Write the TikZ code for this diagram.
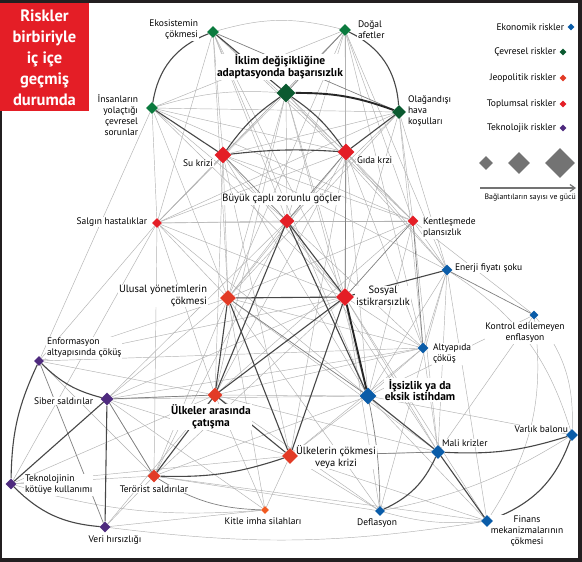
\documentclass[tikz,border=0pt]{standalone}
\usepackage{fontspec}
\setmainfont{PT Sans}
\usetikzlibrary{shapes.geometric,backgrounds,arrows.meta}

\definecolor{ekoc}{HTML}{0A5CA8}
\definecolor{cevc}{HTML}{0B7A3E}
\definecolor{iklc}{HTML}{0B5A30}
\definecolor{jeoc}{HTML}{E23B26}
\definecolor{kitc}{HTML}{F15A22}
\definecolor{topc}{HTML}{E41E26}
\definecolor{tekc}{HTML}{4E2A7E}
\definecolor{framec}{HTML}{231F20}

\tikzset{
  rk/.style={diamond,inner sep=0pt,minimum size=#1},
  lbl/.style={font=\fontsize{9.5}{11}\selectfont,inner sep=0.8pt,fill=white},
  mlbl/.style={font=\fontsize{10.5}{11.5}\selectfont,inner sep=0.8pt,fill=white},
  blbl/.style={font=\bfseries\fontsize{11.5}{11.5}\selectfont,inner sep=0.8pt,fill=white},
  lnk/.style={black!30,line width=0.45pt},
  mlnk/.style={black!50,line width=0.7pt},
  dlnk/.style={black!72,line width=1.1pt},
  hlnk/.style={black!85,line width=1.9pt},
}

\begin{document}
\begin{tikzpicture}[x=1pt,y=-1pt]
\useasboundingbox (0,0) rectangle (582,562);

% title
\fill[topc] (0,3) rectangle (89,111);
\node[text=white,font=\bfseries\fontsize{16.5}{21}\selectfont,align=center] (ttl) at (44.5,58) {Riskler\\birbiriyle\\iç içe\\geçmiş\\durumda};

% labels
\node[lbl,align=right,anchor=east] (eko-l) at (199,30) {Ekosistemin\\çökmesi};
\node[lbl,align=left,anchor=west] (dog-l) at (357,30) {Doğal\\afetler};
\node[blbl,align=center] (ikl-l) at (280,67) {İklim değişikliğine\\adaptasyonda başarısızlık};
\node[lbl,align=right,anchor=east] (ins-l) at (139,115) {İnsanların\\yolaçtığı\\çevresel\\sorunlar};
\node[lbl,align=left,anchor=west] (ola-l) at (407,111) {Olağandışı\\hava\\koşulları};
\node[lbl,anchor=east] (su-l) at (214,163) {Su krizi};
\node[lbl,anchor=west] (gid-l) at (356,160) {Gıda krzi};
\node[mlbl] (goc-l) at (282,199) {Büyük çaplı zorunlu göçler};
\node[lbl,anchor=east] (sal-l) at (148,222) {Salgın hastalıklar};
\node[lbl,align=left,anchor=west] (ken-l) at (422,228) {Kentleşmede\\plansızlık};
\node[mlbl,align=right,anchor=east] (ulu-l) at (208,296) {Ulusal yönetimlerin\\çökmesi};
\node[mlbl,align=center] (sos-l) at (383,296) {Sosyal\\istikrarsızlık};
\node[blbl,align=center] (cat-l) at (211,417) {Ülkeler arasında\\çatışma};
\node[mlbl,align=center] (cok-l) at (336,457) {Ülkelerin çökmesi\\veya krizi};
\node[lbl] (ter-l) at (154,489) {Terörist saldırılar};
\node[lbl] (kit-l) at (263,521) {Kitle imha silahları};
\node[lbl,align=left,anchor=west] (tek-l) at (24,485) {Teknolojinin\\kötüye kullanımı};
\node[lbl] (ver-l) at (115,540) {Veri hırsızlığı};
\node[lbl,align=left,anchor=west] (inf-l) at (46,348) {Enformasyon\\altyapısında çöküş};
\node[lbl,anchor=east] (sib-l) at (94,401) {Siber saldırılar};
\node[lbl,anchor=west] (ene-l) at (454,268) {Enerji fiyatı şoku};
\node[lbl,align=center] (enf-l) at (525,333) {Kontrol edilemeyen\\enflasyon};
\node[lbl,align=left,anchor=west] (alt-l) at (432,354) {Altyapıda\\çöküş};
\node[blbl,align=center] (iss-l) at (420,390) {İşsizlik ya da\\eksik istihdam};
\node[lbl,anchor=west] (mal-l) at (441,443) {Mali krizler};
\node[lbl,anchor=east] (var-l) at (569,429) {Varlık balonu};
\node[lbl] (def-l) at (377,523) {Deflasyon};
\node[lbl,align=center] (fin-l) at (527,531) {Finans\\mekanizmalarının\\çökmesi};

% risks: cevresel
\node[rk=12,fill=cevc] (eko) at (213,32) {};
\node[rk=12,fill=cevc] (dog) at (345,30) {};
\node[rk=19,fill=iklc] (ikl) at (286,93) {};
\node[rk=12,fill=cevc] (ins) at (152,108) {};
\node[rk=14,fill=iklc] (ola) at (399,112) {};
% toplumsal
\node[rk=17,fill=topc] (su) at (223,155) {};
\node[rk=17,fill=topc] (gid) at (346,152) {};
\node[rk=15,fill=topc] (goc) at (287,221) {};
\node[rk=10,fill=topc] (sal) at (157,223) {};
\node[rk=11,fill=topc] (ken) at (413,221) {};
\node[rk=18,fill=topc] (sos) at (345,297) {};
% jeopolitik
\node[rk=16,fill=jeoc] (ulu) at (228,298) {};
\node[rk=15,fill=jeoc] (cat) at (215,395) {};
\node[rk=16,fill=jeoc] (cok) at (290,456) {};
\node[rk=13,fill=jeoc] (ter) at (154,476) {};
\node[rk=8,fill=kitc] (kit) at (265,510) {};
% ekonomik
\node[rk=11,fill=ekoc] (ene) at (447,270) {};
\node[rk=9,fill=ekoc] (enf) at (534,315) {};
\node[rk=11,fill=ekoc] (alt) at (423,348) {};
\node[rk=17,fill=ekoc] (iss) at (368,396) {};
\node[rk=14,fill=ekoc] (mal) at (438,452) {};
\node[rk=12,fill=ekoc] (var) at (572,435) {};
\node[rk=10,fill=ekoc] (def) at (380,511) {};
\node[rk=12,fill=ekoc] (fin) at (487,521) {};
% teknolojik
\node[rk=10,fill=tekc] (inf) at (39,361) {};
\node[rk=13,fill=tekc] (sib) at (107,399) {};
\node[rk=11,fill=tekc] (tek) at (11,484) {};
\node[rk=11,fill=tekc] (ver) at (105,527) {};

% legend
\node[lbl,fill=none,anchor=east] (lg-eko) at (565,27) {Ekonomik riskler};
\node[rk=7,fill=ekoc] (lgd-eko) at (571,27) {};
\node[lbl,fill=none,anchor=east] (lg-cev) at (557,52) {Çevresel riskler};
\node[rk=7,fill=iklc] (lgd-cev) at (563,52) {};
\node[lbl,fill=none,anchor=east] (lg-jeo) at (557,78) {Jeopolitik riskler};
\node[rk=7,fill=jeoc] (lgd-jeo) at (563,78) {};
\node[lbl,fill=none,anchor=east] (lg-top) at (557,104) {Toplumsal riskler};
\node[rk=7,fill=topc] (lgd-top) at (563,104) {};
\node[lbl,fill=none,anchor=east] (lg-tek) at (557,128) {Teknolojik riskler};
\node[rk=7,fill=tekc] (lgd-tek) at (563,128) {};
\node[rk=14,fill=black!55] (sz1) at (486,163) {};
\node[rk=22,fill=black!55] (sz2) at (519,163) {};
\node[rk=30,fill=black!55] (sz3) at (560,163) {};
\coordinate (ar1) at (480,188);
\coordinate (ar2) at (576,188);
\draw[black!55,line width=1.2pt,-{Straight Barb[length=5pt,width=7pt]}] (ar1) -- (ar2);
\node[font=\fontsize{7.8}{9}\selectfont,anchor=east,inner sep=0pt] (lg-txt) at (576,198) {Bağlantıların sayısı ve gücü};

\begin{scope}[on background layer]
\fill[framec] (0,0) rectangle (582,562);
\fill[white] (2,3) rectangle (578,558);
% links
\foreach \a/\b in {eko/su,eko/gid,eko/goc,eko/sal,eko/ken,eko/sos,eko/ulu,eko/iss,
  dog/ins,dog/su,dog/gid,dog/goc,dog/ken,dog/sal,dog/sos,dog/ene,dog/alt,dog/ulu,
  ikl/goc,ikl/sos,ikl/ulu,ikl/ken,ikl/sal,ikl/cat,ikl/iss,ikl/ene,
  ins/ola,ins/gid,ins/sal,ins/goc,ins/ken,ins/inf,ins/ulu,ins/sos,
  ola/su,ola/ken,ola/goc,ola/sos,ola/ene,ola/alt,ola/sal,ola/ulu,
  su/sos,su/ulu,su/cat,su/ken,su/sal,su/iss,su/cok,su/ene,
  gid/ken,gid/ulu,gid/sal,gid/cok,gid/cat,gid/iss,gid/ene,gid/alt,
  goc/sal,goc/ken,goc/ter,goc/alt,goc/mal,goc/sib,goc/ulu,
  sal/ken,sal/ulu,sal/sos,sal/cat,sal/tek,sal/ter,sal/iss,sal/inf,
  ken/ene,ken/iss,ken/mal,ken/cat,ken/ulu,ken/enf,
  ulu/ter,ulu/sib,ulu/alt,ulu/mal,ulu/inf,ulu/kit,ulu/def,
  sos/alt,sos/mal,sos/ter,sos/def,sos/sib,sos/fin,sos/inf,
  cat/sib,cat/kit,cat/alt,cat/iss,cat/mal,cat/ver,cat/def,
  cok/mal,cok/iss,cok/kit,cok/sib,cok/def,cok/fin,cok/tek,cok/alt,
  ter/sib,ter/tek,ter/ver,ter/iss,ter/def,ter/inf,
  iss/fin,iss/var,iss/alt,iss/enf,mal/ene,mal/alt,mal/enf,def/ene,
  ene/alt,ene/iss,ene/fin,inf/alt,inf/cat,sib/iss,sib/alt,sib/kit,
  tek/cat,ver/kit,fin/ter}
  \draw[lnk] (\a) -- (\b);
\foreach \a/\b/\bd in {eko/dog/15,ikl/ins/-10,ver/fin/-8,enf/var/20,ene/var/20,
  enf/fin/20,def/fin/-10,tek/kit/-10,def/var/-10}
  \draw[lnk] (\a) to[bend left=\bd] (\b);
\foreach \a/\b in {ikl/dog,su/goc,gid/goc,gid/sos,ken/sos,ken/alt,ene/enf,sib/cat,
  sib/ter,inf/ver,ulu/iss,eko/ola,mal/cok}
  \draw[mlnk] (\a) -- (\b);
\foreach \a/\b/\bd in {ter/kit/-15,iss/def/5}
  \draw[mlnk] (\a) to[bend left=\bd] (\b);
\foreach \a/\b in {eko/ikl,ins/su,ola/gid,goc/sos,goc/cat,goc/iss,ulu/sos,ulu/cat,
  ulu/cok,sos/cok,sos/cat,sos/ene,cat/cok,cat/ter,iss/mal,mal/fin,sib/ver,sib/tek}
  \draw[dlnk] (\a) -- (\b);
\foreach \a/\b/\bd in {eko/ins/-30,dog/ola/30,ikl/su/-10,ikl/gid/10,su/gid/5,
  ter/cok/-10,mal/var/-10,mal/def/20,var/fin/25,inf/sib/-15,inf/tek/-12,tek/ver/-20}
  \draw[dlnk] (\a) to[bend left=\bd] (\b);
\draw[hlnk] (sos) -- (iss);
\draw[hlnk] (ikl) to[bend left=10] (ola);
\end{scope}
\end{tikzpicture}
\end{document}
